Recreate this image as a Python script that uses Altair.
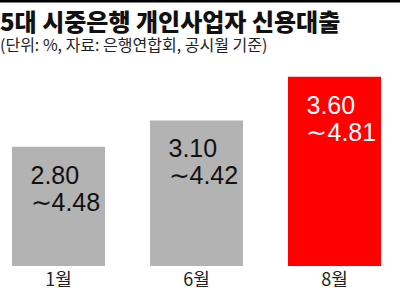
import altair as alt
import pandas as pd

months = ["1월", "6월", "8월"]
low = [2.80, 3.10, 3.60]
high = [4.48, 4.42, 4.81]
colors = ["#b3b3b3", "#b3b3b3", "#ff0000"]
text_colors = ["#111111", "#111111", "#ffffff"]
BASE = 1.44
TOP = 3.79

title_text = "5대 시중은행 개인사업자 신용대출"
subtitle_text = "(단위: %, 자료: 은행연합회, 공시월 기준)"

df = pd.DataFrame({
    "month": months,
    "low": low,
    "high": high,
    "color": colors,
    "tcolor": text_colors,
    "label": [f"{l:.2f}\n∼{h:.2f}" for l, h in zip(low, high)],
})
tdf = pd.DataFrame({"t": [title_text], "s": [subtitle_text]})

x = alt.X("month:N", sort=months, title=None,
          scale=alt.Scale(paddingInner=0.326, paddingOuter=0.087),
          axis=alt.Axis(domain=False, ticks=False, labelAngle=0,
                        labelFont="Noto Sans CJK KR", labelFontSize=18,
                        labelColor="#222222", labelPadding=5))
y = alt.Y("low:Q", title=None, scale=alt.Scale(domain=[BASE, TOP], zero=False, nice=False),
          axis=None)

bars = alt.Chart(df).mark_bar().encode(
    x=x, y=y, y2=alt.datum(BASE),
    color=alt.Color("color:N", scale=None),
)

labels = alt.Chart(df).mark_text(
    align="left", baseline="top", dx=-28, dy=17, lineBreak="\n",
    font="Liberation Sans, Arial, sans-serif",
    fontSize=25, lineHeight=27,
).encode(
    x=x, y=y, text="label:N",
    color=alt.Color("tcolor:N", scale=None),
)

border = alt.Chart(tdf).mark_rule(color="#000000", strokeWidth=3, clip=False).encode(
    x=alt.value(0), x2=alt.value(400), y=alt.value(-59)
)

title = alt.Chart(tdf).mark_text(
    align="left", baseline="alphabetic", font="Noto Sans CJK KR", fontSize=24,
    fontWeight=900, color="#111111", clip=False,
).encode(x=alt.value(0), y=alt.value(-29), text="t:N")

subtitle = alt.Chart(tdf).mark_text(
    align="left", baseline="alphabetic", font="Noto Sans CJK KR", fontSize=16,
    color="#222222", clip=False,
).encode(x=alt.value(0), y=alt.value(-9), text="s:N")

chart = alt.layer(bars, labels, border, title, subtitle).properties(
    width=393, height=206,
    autosize=alt.AutoSizeParams(type="none"),
    padding={"left": 0, "top": 60, "right": 7, "bottom": 25},
).configure_view(stroke=None)

chart.save("out.html", embed_options={"renderer": "svg", "actions": False})
